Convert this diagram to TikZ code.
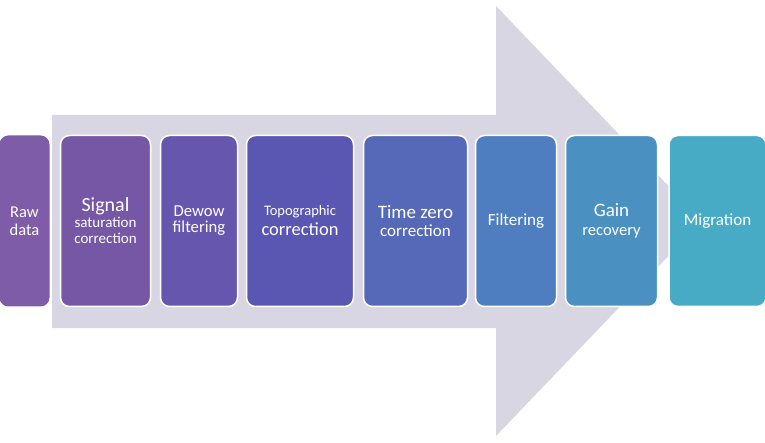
\documentclass[tikz,border=0pt]{standalone}
\usepackage{fontspec}
\setmainfont{Carlito}
\usetikzlibrary{positioning}
\definecolor{arrowgray}{HTML}{D9D6E3}
\definecolor{rawcol}{HTML}{7F5CA8}
\definecolor{signalcol}{HTML}{7657A6}
\definecolor{dewowcol}{HTML}{6656AE}
\definecolor{topocol}{HTML}{5A57B2}
\definecolor{timecol}{HTML}{5669B8}
\definecolor{filtcol}{HTML}{4E7EC0}
\definecolor{gaincol}{HTML}{4A91C1}
\definecolor{migcol}{HTML}{47ABC6}
\tikzset{stage/.style={draw=white, line width=1.5pt, rounded corners=9pt, text=white,
    align=center, inner sep=0pt, minimum height=171pt}}

\begin{document}
\begin{tikzpicture}[x=1pt,y=-1pt]
    \useasboundingbox (0,0) rectangle (765,443);
    % Big arrow
    \fill[arrowgray] (52,115) -- (496,115) -- (496,6) -- (702,221) -- (496,436)
        -- (496,328) -- (52,328) -- cycle;

    % Stages
    \node[stage, draw=none, fill=rawcol, minimum width=50pt, font=\fontsize{16.5}{18}\selectfont]
        (raw) at (24.5,221) {Raw\\data};
    \node[stage, fill=signalcol, minimum width=90pt, font=\fontsize{15}{16}\selectfont]
        (signal) at (105.5,221) {{\fontsize{20}{16}\selectfont Signal}\\saturation\\correction};
    \node[stage, fill=dewowcol, minimum width=77pt, font=\fontsize{16.7}{16}\selectfont]
        (dewow) at (199,221) {Dewow\\filtering};
    \node[stage, fill=topocol, minimum width=107pt, font=\fontsize{18.5}{20}\selectfont]
        (topo) at (300,221) {{\fontsize{14.5}{20}\selectfont Topographic}\\correction};
    \node[stage, fill=timecol, minimum width=104pt, font=\fontsize{17}{18}\selectfont]
        (timezero) at (415.5,221) {{\fontsize{19}{18}\selectfont Time zero}\\correction};
    \node[stage, fill=filtcol, minimum width=81pt, font=\fontsize{17}{18}\selectfont]
        (filt) at (516,221) {Filtering};
    \node[stage, fill=gaincol, minimum width=92pt, font=\fontsize{16.6}{19}\selectfont]
        (gain) at (611.5,221) {{\fontsize{19}{19}\selectfont Gain}\\recovery};
    \node[stage, fill=migcol, minimum width=97pt, font=\fontsize{17}{18}\selectfont]
        (mig) at (717.5,221) {Migration};
\end{tikzpicture}
\end{document}
